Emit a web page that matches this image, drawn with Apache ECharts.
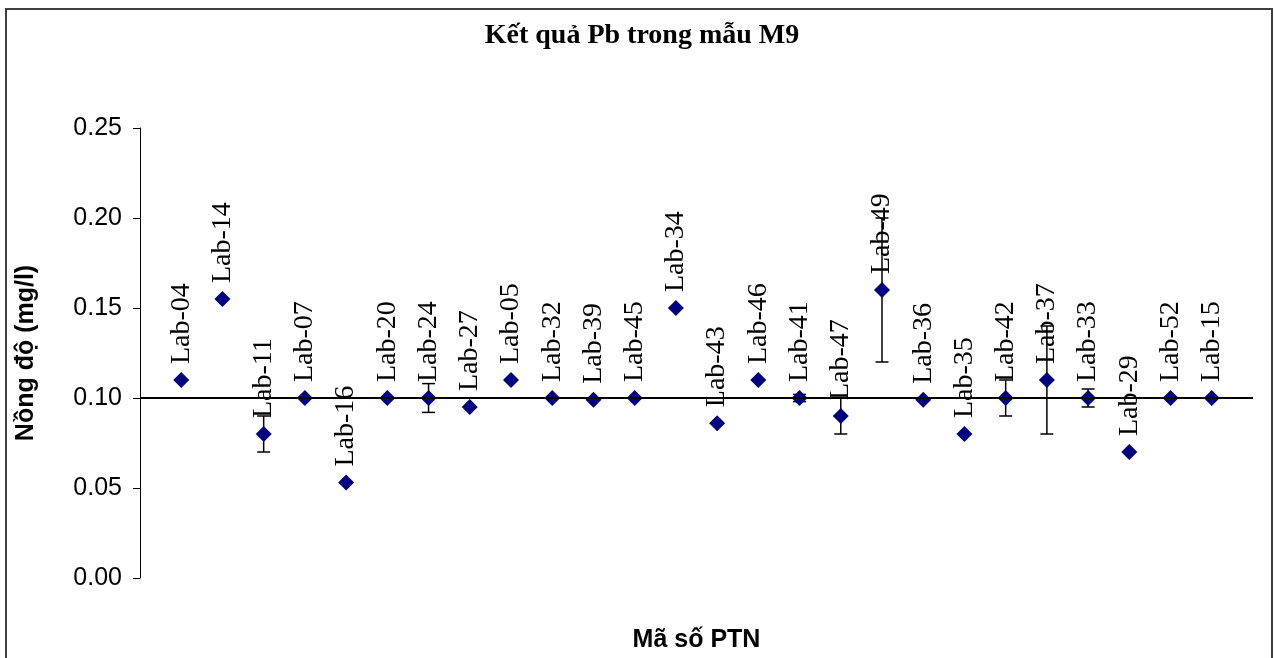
<!DOCTYPE html>
<html>
<head>
<meta charset="utf-8">
<script src="https://cdn.jsdelivr.net/npm/echarts@6/dist/echarts.min.js"></script>
<style>
html,body{margin:0;padding:0;background:#fff;}
#chart{width:1275px;height:658px;}
</style>
</head>
<body>
<div id="chart"></div>
<script>
const labs = ['Lab-04','Lab-14','Lab-11','Lab-07','Lab-16','Lab-20','Lab-24','Lab-27','Lab-05','Lab-32','Lab-39','Lab-45','Lab-34','Lab-43','Lab-46','Lab-41','Lab-47','Lab-49','Lab-36','Lab-35','Lab-42','Lab-37','Lab-33','Lab-29','Lab-52','Lab-15'];
const values = [0.110,0.155,0.080,0.100,0.053,0.100,0.100,0.095,0.110,0.100,0.099,0.100,0.150,0.086,0.110,0.100,0.090,0.160,0.099,0.080,0.100,0.110,0.100,0.070,0.100,0.100];
const errors = [0,0,0.010,0,0,0,0.008,0,0,0,0,0,0,0,0,0.002,0.010,0.040,0,0,0.010,0.030,0.005,0,0,0];
const refValue = 0.10;
const yMin = 0, yMax = 0.25, yStep = 0.05;
const titleText = 'Kết quả Pb trong mẫu M9';
const yName = 'Nồng độ (mg/l)';
const xName = 'Mã số PTN';

const pointData = values.map((v, i) => ({ value: [i + 1, v], name: labs[i] }));
const errData = values.map((v, i) => [i + 1, v, errors[i]]);

const chart = echarts.init(document.getElementById('chart'), null, { renderer: 'canvas' });
chart.setOption({
  animation: false,
  backgroundColor: '#fff',
  title: {
    text: titleText,
    left: 637, top: 17, textAlign: 'center',
    textStyle: { fontFamily: 'Liberation Serif', fontWeight: 'bold', fontSize: 28, color: '#000' }
  },
  graphic: [{
    type: 'rect', silent: true, z: -1,
    shape: { x: 6, y: 9, width: 1266, height: 700 },
    style: { fill: 'none', stroke: '#404040', lineWidth: 2 }
  }],
  grid: { left: 140, right: 22, top: 128, bottom: 78 },
  xAxis: {
    type: 'value', min: 0, max: labs.length + 1,
    name: xName, nameLocation: 'middle', nameGap: 50,
    nameTextStyle: { fontFamily: 'Liberation Sans', fontWeight: 'bold', fontSize: 25, color: '#000' },
    axisLine: { show: false }, axisTick: { show: false }, axisLabel: { show: false }, splitLine: { show: false }
  },
  yAxis: {
    type: 'value', min: yMin, max: yMax, interval: yStep,
    name: yName, nameLocation: 'middle', nameGap: 101,
    nameTextStyle: { fontFamily: 'Liberation Sans', fontWeight: 'bold', fontSize: 25, color: '#000' },
    axisLine: { show: true, lineStyle: { color: '#000', width: 1 } },
    axisTick: { show: true, inside: false, length: 7, lineStyle: { color: '#000', width: 1 } },
    axisLabel: { margin: 18, fontFamily: 'Liberation Sans', fontSize: 25, color: '#000', formatter: v => v.toFixed(2) },
    splitLine: { show: false }
  },
  series: [
    {
      type: 'custom', z: 3, silent: true,
      data: errData,
      renderItem: function (params, api) {
        const x = api.value(0), y = api.value(1), e = api.value(2);
        if (!e) return null;
        const t = api.coord([x, y + e]);
        const b = api.coord([x, y - e]);
        const w = 6.5;
        const st = { stroke: '#000', lineWidth: 1.5 };
        return {
          type: 'group',
          children: [
            { type: 'line', shape: { x1: t[0], y1: t[1], x2: b[0], y2: b[1] }, style: st },
            { type: 'line', shape: { x1: t[0] - w, y1: t[1], x2: t[0] + w, y2: t[1] }, style: st },
            { type: 'line', shape: { x1: b[0] - w, y1: b[1], x2: b[0] + w, y2: b[1] }, style: st }
          ]
        };
      }
    },
    {
      type: 'scatter', z: 4,
      symbol: 'diamond', symbolSize: 16,
      itemStyle: { color: '#000080', opacity: 1 },
      data: pointData,
      label: {
        show: true, position: 'top', distance: 8, rotate: 90,
        align: 'left', verticalAlign: 'middle',
        formatter: p => p.name,
        fontFamily: 'Liberation Serif', fontSize: 28, color: '#000'
      },
      labelLayout: { hideOverlap: false },
      markLine: {
        silent: true, symbol: 'none', animation: false,
        label: { show: false },
        lineStyle: { color: '#000', width: 2, type: 'solid' },
        data: [{ yAxis: refValue }]
      }
    }
  ]
});
</script>
</body>
</html>
